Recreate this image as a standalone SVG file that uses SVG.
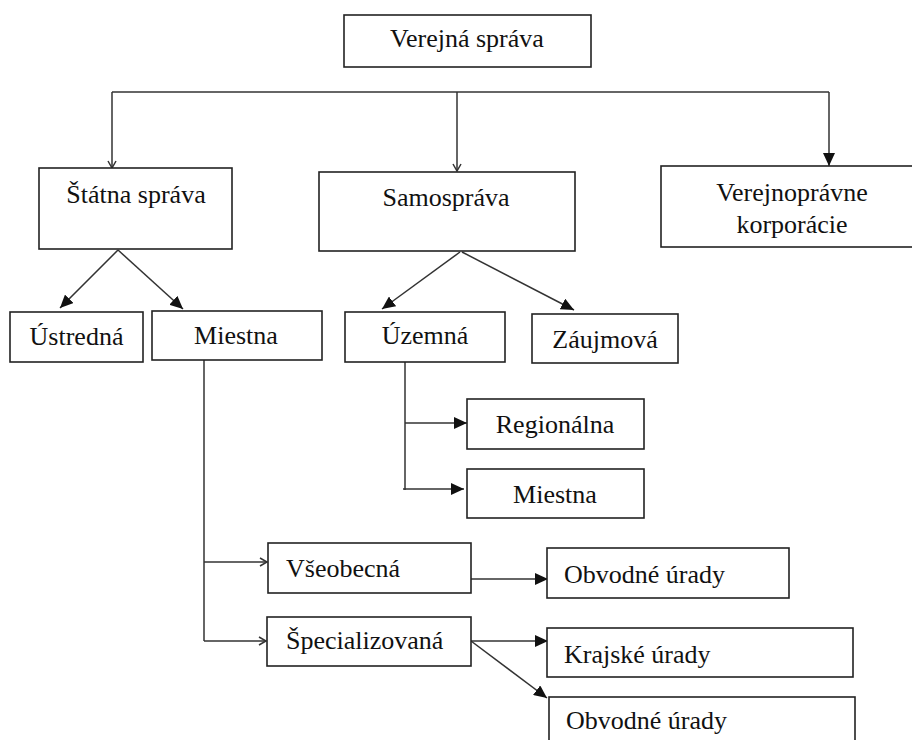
<svg xmlns="http://www.w3.org/2000/svg" width="912" height="740" viewBox="0 0 912 740">
<style>
.box{fill:#fff;stroke:#222;stroke-width:1.6}
.t{font-family:"Liberation Serif","Times New Roman",Times,serif;font-size:26px;fill:#111}
.c{text-anchor:middle}
.ln{fill:none;stroke:#333;stroke-width:1.5}
</style>
<defs>
<marker id="af" markerUnits="userSpaceOnUse" markerWidth="14" markerHeight="12" refX="13" refY="6" orient="auto">
<path d="M0,0 L13,6 L0,12 z" fill="#111"/>
</marker>
<marker id="ao" markerUnits="userSpaceOnUse" markerWidth="10" markerHeight="10" refX="8" refY="5" orient="auto">
<path d="M1,1 L8,5 L1,9" fill="none" stroke="#333" stroke-width="1.5"/>
</marker>
</defs>
<rect width="912" height="740" fill="#fff"/>
<g id="connectors">
<path class="ln" d="M112,92 H829"/>
<path class="ln" d="M112,92 V168" marker-end="url(#ao)"/>
<path class="ln" d="M457,92 V171" marker-end="url(#ao)"/>
<path class="ln" d="M829,92 V166" marker-end="url(#af)"/>
<path class="ln" d="M118,250 L60,308" marker-end="url(#af)"/>
<path class="ln" d="M118,250 L183,309" marker-end="url(#af)"/>
<path class="ln" d="M460,252 L382,309" marker-end="url(#af)"/>
<path class="ln" d="M462,252 L574,310" marker-end="url(#af)"/>
<path class="ln" d="M204,360 V641"/>
<path class="ln" d="M405,362 V490"/>
<path class="ln" d="M405,423 H467" marker-end="url(#af)"/>
<path class="ln" d="M403,489 H464" marker-end="url(#af)"/>
<path class="ln" d="M204,562 H267" marker-end="url(#ao)"/>
<path class="ln" d="M204,641 H266" marker-end="url(#ao)"/>
<path class="ln" d="M471,579 H548" marker-end="url(#af)"/>
<path class="ln" d="M471,641 H548" marker-end="url(#af)"/>
<path class="ln" d="M471,641 L547,698" marker-end="url(#af)"/>
</g>
<g id="verejna-sprava"><rect class="box" x="344" y="15" width="247" height="52"/><text class="t c" x="467" y="47">Verejná správa</text></g>
<g id="statna-sprava"><rect class="box" x="39" y="168" width="193" height="81"/><text class="t c" x="136" y="203">Štátna správa</text></g>
<g id="samosprava"><rect class="box" x="319" y="172" width="256" height="79"/><text class="t c" x="446" y="206">Samospráva</text></g>
<g id="verejnopravne"><rect class="box" x="661" y="166" width="264" height="81"/><text class="t c" x="792" y="201">Verejnoprávne</text><text class="t c" x="792" y="233">korporácie</text></g>
<g id="ustredna"><rect class="box" x="10" y="312" width="133" height="50"/><text class="t c" x="76.5" y="345">Ústredná</text></g>
<g id="miestna"><rect class="box" x="152" y="311" width="170" height="49"/><text class="t c" x="236" y="344">Miestna</text></g>
<g id="uzemna"><rect class="box" x="345" y="312" width="160" height="50"/><text class="t c" x="425" y="344">Územná</text></g>
<g id="zaujmova"><rect class="box" x="532" y="314" width="146" height="49"/><text class="t c" x="605" y="348">Záujmová</text></g>
<g id="regionalna"><rect class="box" x="467" y="399" width="177" height="50"/><text class="t c" x="555" y="433">Regionálna</text></g>
<g id="miestna2"><rect class="box" x="467" y="469" width="177" height="49"/><text class="t c" x="555" y="503">Miestna</text></g>
<g id="vseobecna"><rect class="box" x="268" y="543" width="203" height="50"/><text class="t" x="286" y="577">Všeobecná</text></g>
<g id="specializovana"><rect class="box" x="267" y="617" width="204" height="49"/><text class="t" x="286" y="649">Špecializovaná</text></g>
<g id="obvodne1"><rect class="box" x="547" y="548" width="242" height="50"/><text class="t" x="564" y="583">Obvodné úrady</text></g>
<g id="krajske"><rect class="box" x="547" y="628" width="306" height="49"/><text class="t" x="564" y="663">Krajské úrady</text></g>
<g id="obvodne2"><rect class="box" x="549" y="697" width="306" height="60"/><text class="t" x="566" y="729">Obvodné úrady</text></g>
</svg>
